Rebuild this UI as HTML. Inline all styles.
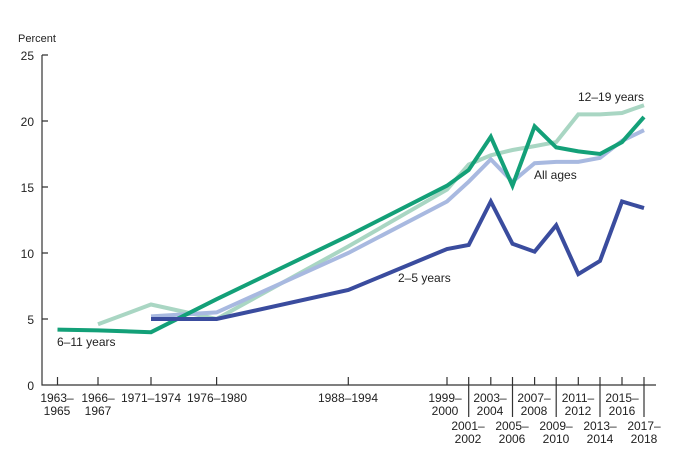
<!DOCTYPE html>
<html><head><meta charset="utf-8"><style>
body{margin:0;background:#fff;}
svg{display:block;font-family:"Liberation Sans",sans-serif;font-size:12px;fill:#222;}
</style></head><body>
<svg width="674" height="455" viewBox="0 0 674 455">
<text x="18" y="42" style="font-size:11px">Percent</text>
<g text-anchor="end">
<text x="34" y="60">25</text><text x="34" y="126">20</text><text x="34" y="192">15</text>
<text x="34" y="258">10</text><text x="34" y="324">5</text><text x="34" y="390">0</text>
</g>
<g stroke="#333" stroke-width="1.2" fill="none">
<path d="M42 55V385H656"/>
<path d="M42 55h6M42 121h6M42 187h6M42 253h6M42 319h6"/>
<path d="M57.5 385v-8M98 385v-8M151 385v-8M216.6 385v-8M348.3 385v-8M447 385v-8M490.8 385v-8M534.6 385v-8M578.3 385v-8M622 385v-8"/>
<path d="M468.7 377v40M512.5 377v40M556.2 377v40M600 377v40M644 377v40"/>
</g>
<g text-anchor="middle">
<text x="57" y="402">1963–</text><text x="57" y="415">1965</text>
<text x="98" y="402">1966–</text><text x="98" y="415">1967</text>
<text x="151" y="402">1971–1974</text>
<text x="217" y="402">1976–1980</text>
<text x="348" y="402">1988–1994</text>
<text x="445" y="402">1999–</text><text x="445" y="415">2000</text>
<text x="490" y="402">2003–</text><text x="490" y="415">2004</text>
<text x="534" y="402">2007–</text><text x="534" y="415">2008</text>
<text x="578" y="402">2011–</text><text x="578" y="415">2012</text>
<text x="622" y="402">2015–</text><text x="622" y="415">2016</text>
<text x="468" y="430">2001–</text><text x="468" y="443">2002</text>
<text x="512" y="430">2005–</text><text x="512" y="443">2006</text>
<text x="556" y="430">2009–</text><text x="556" y="443">2010</text>
<text x="600" y="430">2013–</text><text x="600" y="443">2014</text>
<text x="644" y="430">2017–</text><text x="644" y="443">2018</text>
</g>
<g fill="none" stroke-width="4" stroke-linejoin="miter">
<polyline stroke="#a9d6c3" points="98,324.3 151,304.5 216.6,319 348.3,246.4 447,189.6 468.7,164.6 490.8,155.3 512.5,150 534.6,146.1 556.2,142.1 578.3,114.4 600,114.4 622,113 644,105.2"/>
<polyline stroke="#a8b9e0" points="151,316.4 216.6,312.4 348.3,253 447,201.5 468.7,181.7 490.8,159.3 512.5,181.7 534.6,163.2 556.2,161.9 578.3,161.9 600,157.9 622,140.8 644,130.2"/>
<polyline stroke="#13a078" points="57.5,329.6 98,330.4 151,332.2 216.6,299.2 348.3,235.8 447,185.7 468.7,170 490.8,136.8 512.5,185.7 534.6,126.3 556.2,147.4 578.3,151.4 600,154 622,142.1 644,117"/>
<polyline stroke="#3a4c9e" points="151,319 216.6,319 348.3,290 447,249 468.7,245 490.8,201.5 512.5,243.8 534.6,251.7 556.2,225.3 578.3,274.1 600,260.9 622,201.5 644,208.1"/>
</g>
<text x="57" y="346">6–11 years</text>
<text x="398" y="282">2–5 years</text>
<text x="534" y="179">All ages</text>
<text x="578" y="101">12–19 years</text>
</svg>
</body></html>
